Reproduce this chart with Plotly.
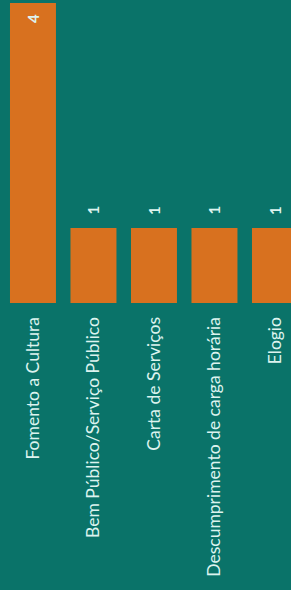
import plotly.graph_objects as go

categories = ["Fomento a Cultura", "Bem Público/Serviço Público", "Carta de Serviços",
              "Descumprimento de carga horária", "Elogio"]
values = [4, 1, 1, 1, 1]

BG = "#0A7369"
BAR = "#D8711F"
TXT = "#DDF3EF"

fig = go.Figure(go.Bar(
    x=categories, y=values, marker=dict(color=BAR, line=dict(width=0)),
    width=0.76, hoverinfo="skip",
))

annotations = []
for c, v in zip(categories, values):
    inside = v >= 2
    annotations.append(dict(
        x=c, y=v, xref="x", yref="y", text="<b>" + str(v) + "</b>", showarrow=False,
        textangle=-90, font=dict(family="Lato", size=15, color=TXT),
        yshift=-15 if inside else 18,
        xanchor="center", yanchor="middle",
    ))

fig.update_layout(
    width=291, height=590,
    margin=dict(l=0, r=0, t=0, b=287),
    paper_bgcolor=BG, plot_bgcolor=BG,
    showlegend=False, bargap=0.24,
    annotations=annotations,
    xaxis=dict(range=[-0.545, 4.265], tickangle=-90, showgrid=False, zeroline=False,
               showline=False, ticks="outside", ticklen=6, tickcolor=BG,
               tickfont=dict(family="Lato", size=17.5, color=TXT), fixedrange=True),
    yaxis=dict(range=[0, 4.04], visible=False, fixedrange=True),
)

fig.write_html("out.html", config={"displayModeBar": False},
               post_script="document.body.style.margin='0';document.body.style.background='" + BG + "';")
